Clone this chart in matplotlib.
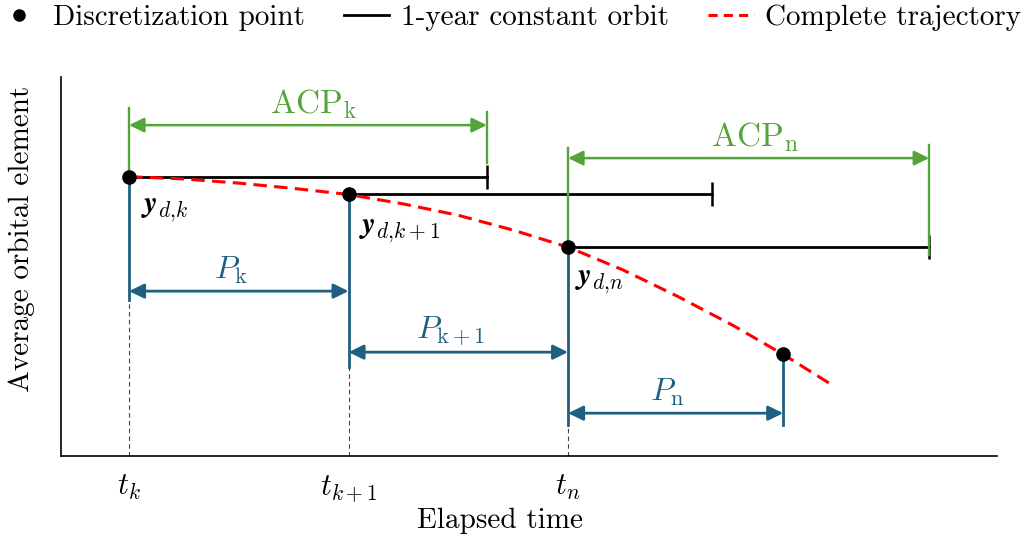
import matplotlib
matplotlib.use("Agg")
import matplotlib.pyplot as plt
from matplotlib.lines import Line2D

plt.rcParams.update({
    "font.family": "serif",
    "font.serif": ["cmr10"],
    "mathtext.fontset": "cm",
    "axes.unicode_minus": False,
})

# discretization epochs and the averaged orbital element at each of them
disc_t = [0.0, 1.0, 2.0, 2.98]
disc_y = [0.737, 0.690, 0.551, 0.268]

# span of each 1-year constant-orbit propagation (ACP) from its epoch
acp_len = [1.63, 1.656, 1.645]

# complete trajectory of the averaged element
traj_t = [0.0, 0.25, 0.5, 0.75, 1.0, 1.25, 1.5, 1.75, 2.0, 2.25, 2.5, 2.75, 2.98, 3.19]
traj_y = [0.737, 0.731, 0.720, 0.706, 0.690, 0.665, 0.635, 0.596, 0.551, 0.491, 0.421,
          0.345, 0.268, 0.192]

tick_labels = [r"$t_k$", r"$t_{k+1}$", r"$t_n$"]
point_labels = [r"$\mathbfit{y}_{d{,}k}$", r"$\mathbfit{y}_{d{,}k+1}$", r"$\mathbfit{y}_{d{,}n}$"]
period_labels = [r"$P_{\mathrm{k}}$", r"$P_{\mathrm{k+1}}$", r"$P_{\mathrm{n}}$"]
acp_labels = {0: r"$\mathrm{ACP}_{\mathrm{k}}$", 2: r"$\mathrm{ACP}_{\mathrm{n}}$"}

BLUE = "#1f6080"
GREEN = "#55a43a"
RED = "#ff0000"
FS = 21

fig = plt.figure(figsize=(10.36, 5.46), dpi=100)
ax = fig.add_axes([61 / 1036, 1 - 456 / 546, 936 / 1036, 379 / 546])
ax.set_xlim(-0.31, 3.954)
ax.set_ylim(0, 1)
for s in ("top", "right"):
    ax.spines[s].set_visible(False)
for s in ("left", "bottom"):
    ax.spines[s].set_linewidth(1.2)
ax.set_yticks([])
ax.set_xticks(disc_t[:3], tick_labels, fontsize=22)
ax.tick_params(axis="x", length=0, pad=12)

ax.set_xlabel("Elapsed time", fontsize=FS)
ax.xaxis.set_label_coords(0.469, -0.135)
ax.set_ylabel("Average orbital element", fontsize=FS)
ax.yaxis.set_label_coords(-0.028, 0.573)


def arrow(x0, x1, y, color, lw):
    ax.annotate("", xy=(x1, y), xytext=(x0, y),
                arrowprops=dict(arrowstyle="<|-|>,head_length=0.45,head_width=0.22",
                                mutation_scale=20, lw=lw, color=color,
                                shrinkA=0, shrinkB=0), zorder=3)


# complete trajectory
ax.plot(traj_t, traj_y, color=RED, lw=2.2, ls=(0, (4.4, 2.4)), zorder=3)

# period brackets below each discretization point
blue_bottom = [0.412, 0.235, 0.082, 0.082]
period_y = [0.435, 0.274, 0.113]
for i, t in enumerate(disc_t):
    ax.plot([t, t], [disc_y[i], blue_bottom[i]], color=BLUE, lw=2.0, zorder=2)
    if i < 3:
        ax.plot([t, t], [0, blue_bottom[i]], color="#444444", lw=0.8,
                ls=(0, (4, 3)), zorder=1)
for i in range(3):
    x0, x1 = disc_t[i], disc_t[i + 1]
    arrow(x0, x1, period_y[i], BLUE, 2.0)
    ax.annotate(period_labels[i], xy=((x0 + x1) / 2, period_y[i]),
                xytext=(-8, 13), textcoords="offset pixels",
                ha="center", va="baseline", fontsize=23, color=BLUE)

# 1-year constant orbits
for i in range(3):
    t, y = disc_t[i], disc_y[i]
    ax.plot([t, t + acp_len[i]], [y, y], color="k", lw=2.0, zorder=2)
    ax.plot([t + acp_len[i]], [y], marker="|", ms=17, mew=1.8, color="k", zorder=2)

# ACP brackets
acp_geom = {0: (0.918, 0.908, 0.773, 0.873), 2: (0.813, 0.821, 0.530, 0.786)}
for i, (top0, top1, bot1, ya) in acp_geom.items():
    t0, t1 = disc_t[i], disc_t[i] + acp_len[i]
    ax.plot([t0, t0], [disc_y[i], top0], color=GREEN, lw=1.7, zorder=3)
    ax.plot([t1, t1], [bot1, top1], color=GREEN, lw=1.7, zorder=3)
    arrow(t0, t1, ya, GREEN, 1.8)
    ax.annotate(acp_labels[i], xy=((t0 + t1) / 2, ya),
                xytext=(6, 12), textcoords="offset pixels",
                ha="center", va="baseline", fontsize=24, color=GREEN)

# discretization points
ax.plot(disc_t, disc_y, "o", ms=9.5, color="k", zorder=5)
offsets = [(12, -20), (10, -23), (7, -21)]
for i in range(3):
    ax.annotate(point_labels[i], xy=(disc_t[i], disc_y[i]), xytext=offsets[i],
                textcoords="offset pixels", ha="left", va="top", fontsize=22)

handles = [
    Line2D([], [], marker="o", ls="none", color="k", ms=8),
    Line2D([], [], color="k", lw=2.0),
    Line2D([], [], color=RED, lw=2.2, ls=(0, (3, 2))),
]
fig.legend(handles, ["Discretization point", "1-year constant orbit", "Complete trajectory"],
           loc="upper center", bbox_to_anchor=(0.491, 1.019), ncol=3, frameon=False,
           fontsize=FS, handlelength=1.55, handletextpad=0.4, columnspacing=1.35,
           borderaxespad=0.1)

fig.savefig("out.png", dpi=100)
